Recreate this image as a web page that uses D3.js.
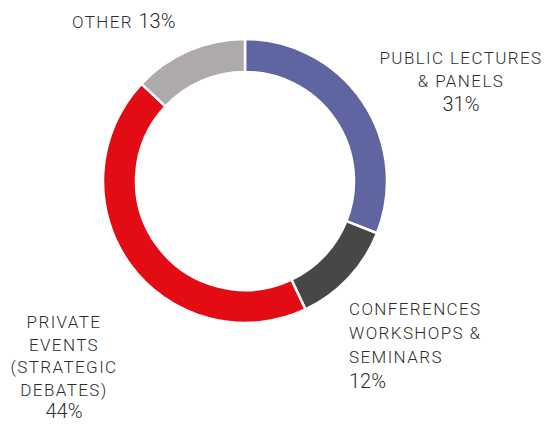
<!DOCTYPE html>
<html>
<head>
<meta charset="utf-8">
<script src="https://cdn.jsdelivr.net/npm/d3@7"></script>
<style>
  body { margin: 0; background: #fff; }
  svg { display: block; font-family: Roboto, "Noto Sans", sans-serif; }
  .lab { fill: #2e2e2e; font-size: 17px; font-weight: 300; letter-spacing: 1.4px; }
  .pct { font-size: 20px; letter-spacing: 0; }
</style>
</head>
<body>
<div id="chart"></div>
<script>
// slice data, clockwise from 12 o'clock
let categories = ['PUBLIC LECTURES & PANELS', 'CONFERENCES WORKSHOPS & SEMINARS', 'PRIVATE EVENTS (STRATEGIC DEBATES)', 'OTHER'];
let values = [31, 12, 44, 13];
let sliceColors = ['#5e65a0', '#474745', '#e30c15', '#aeaaa9'];

let width = 547;
let height = 425;
let cx = 245;
let cy = 181;
let outerR = 142;
let innerR = 109;

let svg = d3.select('#chart').append('svg')
  .attr('width', width)
  .attr('height', height);

let data = categories.map((c, i) => ({ name: c, value: values[i], color: sliceColors[i] }));

let pie = d3.pie()
  .value(d => d.value)
  .sort(null);

let arc = d3.arc()
  .innerRadius(innerR)
  .outerRadius(outerR);

let g = svg.append('g').attr('transform', 'translate(' + cx + ',' + cy + ')');

g.selectAll('path')
  .data(pie(data))
  .enter()
  .append('path')
  .attr('d', arc)
  .style('fill', d => d.data.color)
  .style('stroke', '#fff')
  .style('stroke-width', 2.5);

// labels: lines of text, last line is the percentage
let labels = [
  { lines: ['PUBLIC LECTURES', '& PANELS'], x: 461, y: 64, anchor: 'middle', step: 23 },
  { lines: ['CONFERENCES', 'WORKSHOPS &', 'SEMINARS'], x: 349, y: 315, anchor: 'start', step: 24 },
  { lines: ['PRIVATE', 'EVENTS', '(STRATEGIC', 'DEBATES)'], x: 64, y: 328, anchor: 'middle', step: 22.5 }
];

labels.forEach((l, i) => {
  let t = svg.append('text')
    .attr('class', 'lab')
    .attr('text-anchor', l.anchor);
  l.lines.forEach((line, j) => {
    t.append('tspan')
      .attr('x', l.x)
      .attr('y', l.y + j * l.step)
      .text(line);
  });
  t.append('tspan')
    .attr('class', 'pct')
    .attr('x', l.x)
    .attr('y', Math.min(l.y + l.lines.length * l.step + 1, 418))
    .text(values[i] + '%');
});

// the "other" label sits on one line
let other = svg.append('text')
  .attr('class', 'lab')
  .attr('x', 72)
  .attr('y', 28);
other.append('tspan').text('OTHER ');
other.append('tspan').attr('class', 'pct').text(values[3] + '%');
</script>
</body>
</html>
